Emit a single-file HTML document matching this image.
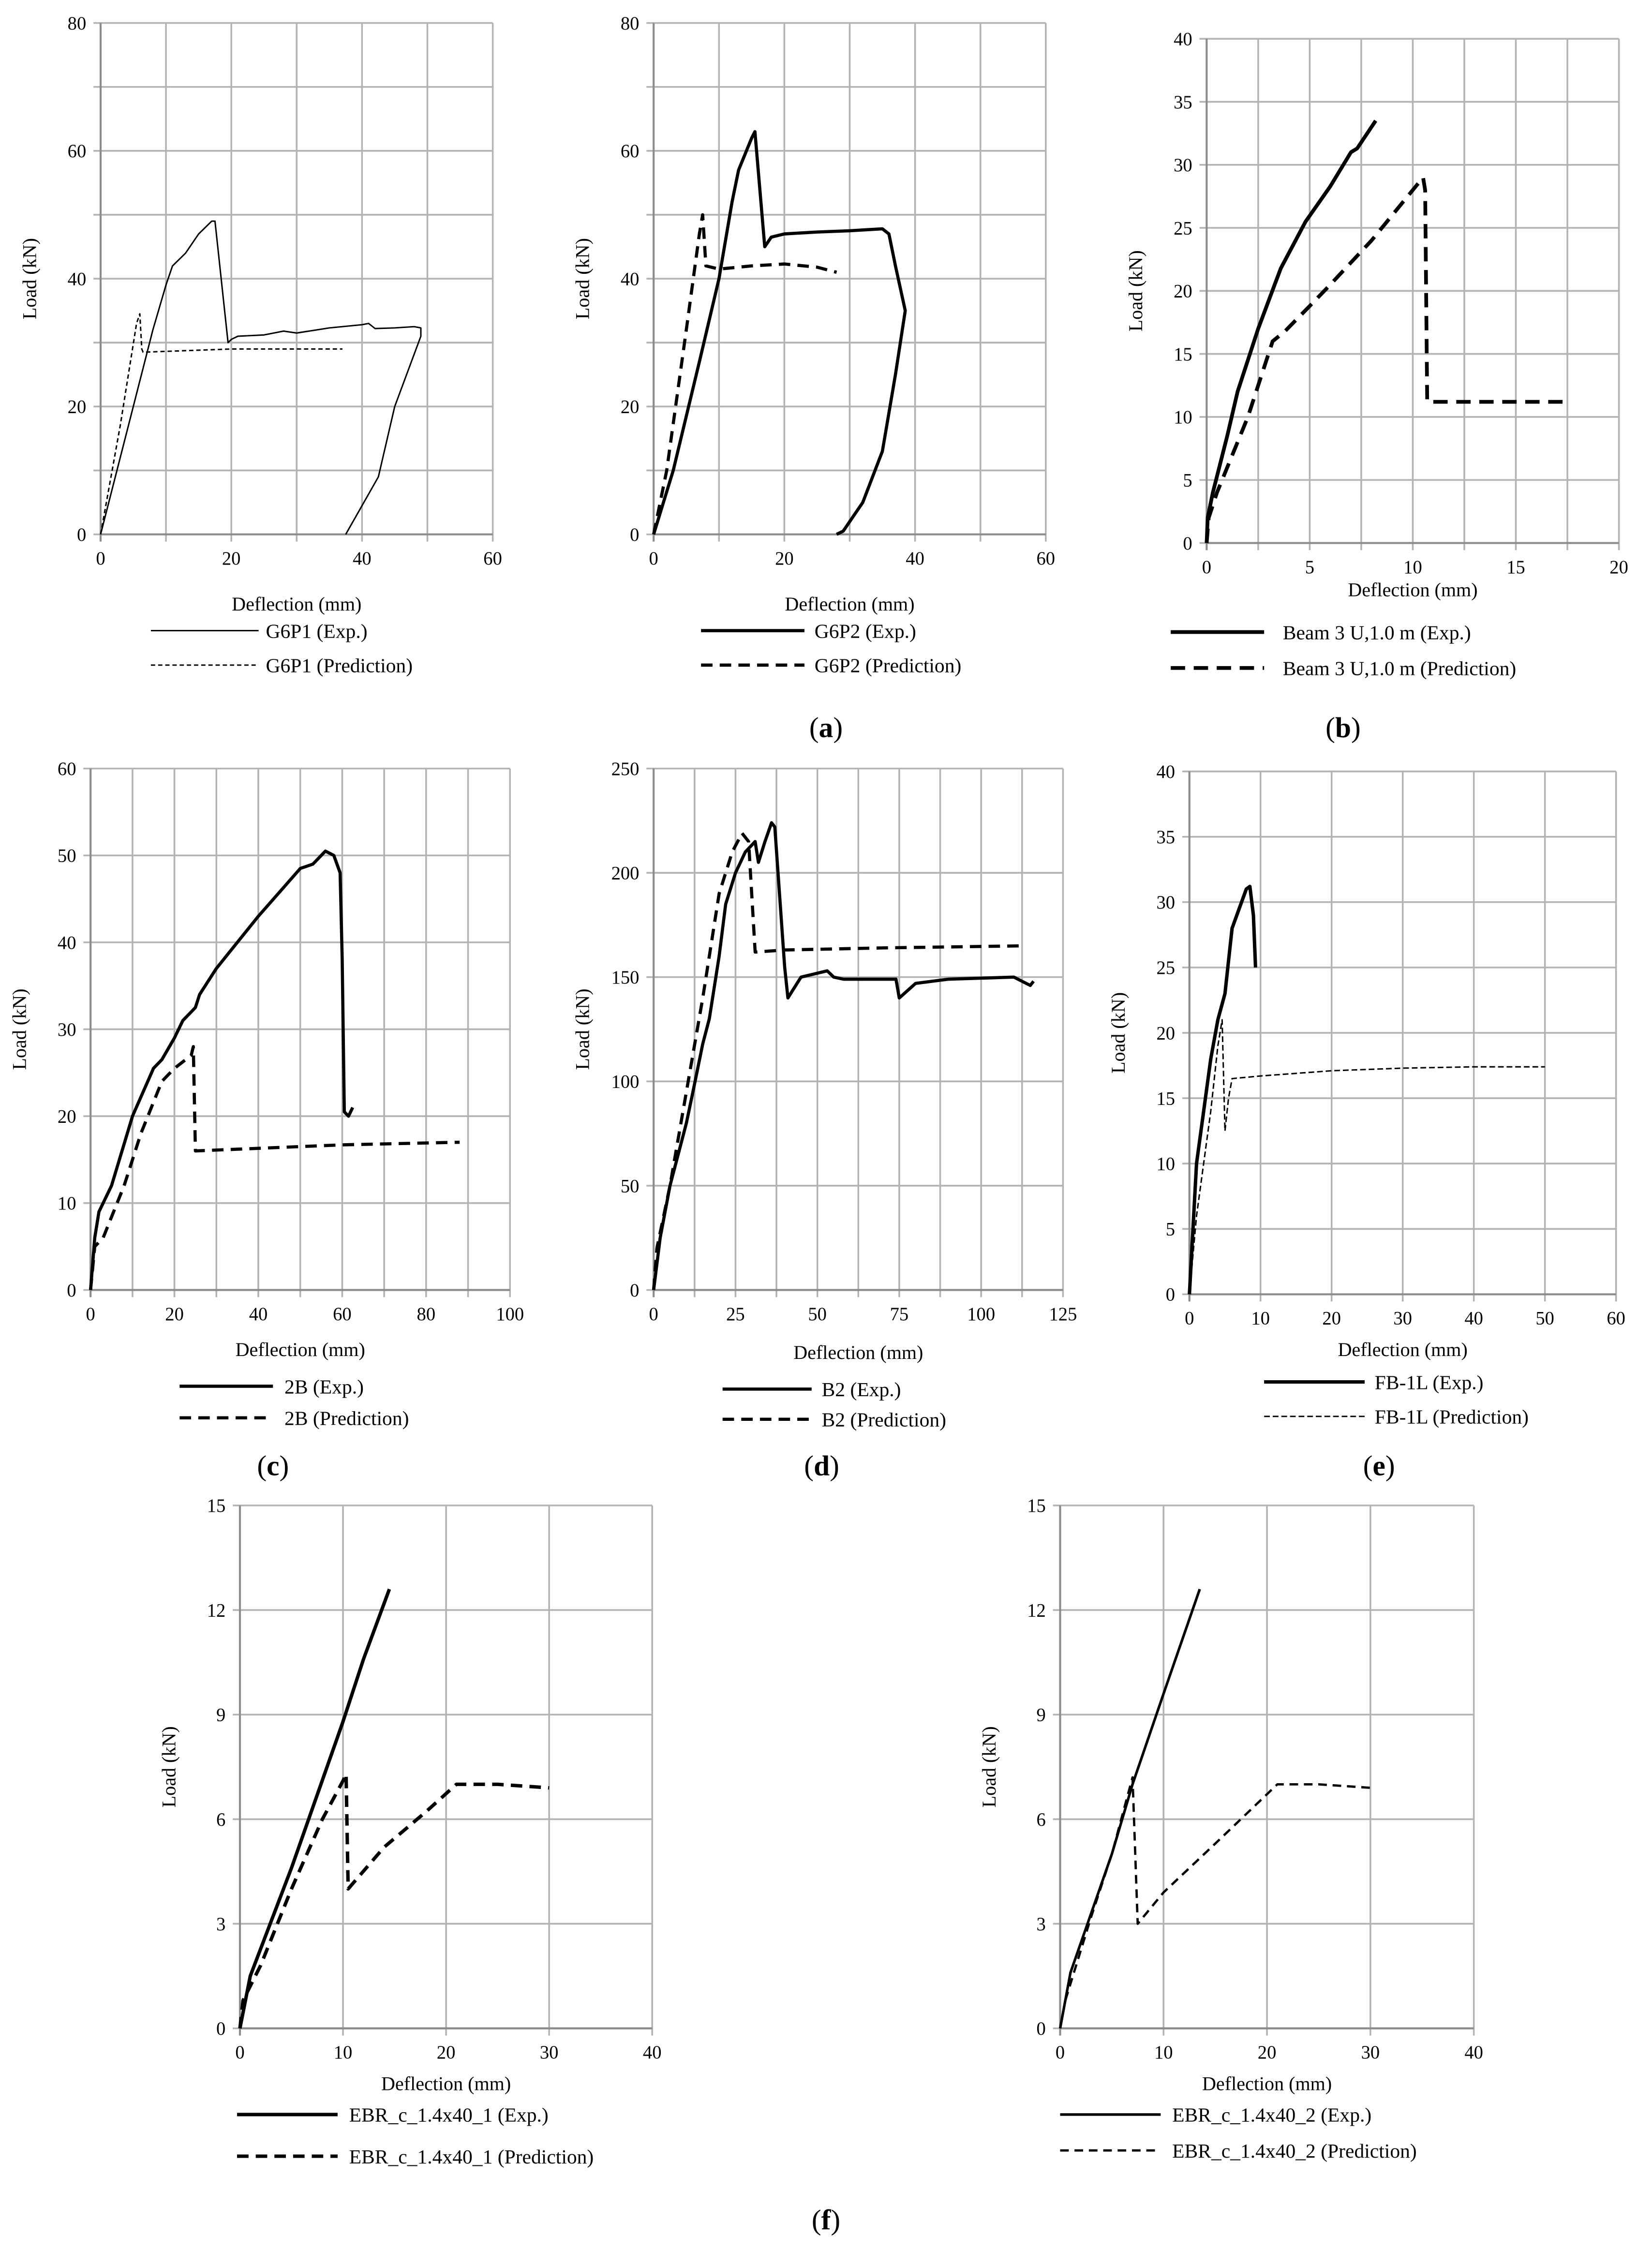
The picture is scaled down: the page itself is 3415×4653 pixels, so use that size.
<!DOCTYPE html>
<html><head><meta charset="utf-8">
<style>
html,body{margin:0;padding:0;background:#fff;}
svg{display:block;}
text{font-family:"Liberation Serif",serif;fill:#000;}
</style></head>
<body>
<svg id="fig" width="3415" height="4653" viewBox="0 0 1150 1567" xmlns="http://www.w3.org/2000/svg"></svg>
<script>
// ---- data (deflection mm, load kN) ----
const a1ExpX=[0,2,5,8,10,11,13,15,17,17.5,19.5,20,21,25,28,30,35,40,41,42,45,48,49,49,45,42.5,37.5];
const a1ExpY=[0,8,20,32,39,42,44,47,49,49,30,30.5,31,31.2,31.8,31.5,32.3,32.8,33,32.2,32.3,32.5,32.3,31,20,9,0];
const a1PreX=[0,3,5.5,6,6.3,6.5,20,37];
const a1PreY=[0,17,33,34.5,29,28.5,29,29];
const a2ExpX=[0,3,7,10,12,13,15,15.5,17,18,20,25,30,35,36,37,38.5,37,35,32,29,28];
const a2ExpY=[0,10,27,40,52,57,62,63,45,46.5,47,47.3,47.5,47.8,47,42,35,25,13,5,0.5,0];
const a2PreX=[0,2,5,7,7.5,8,10,15,20,25,28];
const a2PreY=[0,10,32,47,50,42,41.5,42,42.3,41.8,41];
const bExpX=[0,0.05,0.3,1,1.5,2.5,3.3,3.6,4.8,6,7,7.3,8.2];
const bExpY=[0,2,4,8.5,12,17,20.5,21.8,25.5,28.3,31,31.3,33.5];
const bPreX=[0,0.1,0.5,1,2,2.6,3.2,3.8,5,6,8,10,10.5,10.6,10.7,12,17.5];
const bPreY=[0,2,4,6,10,13,16,16.8,18.8,20.5,24,28,29,28,11.2,11.2,11.2];
const cExpX=[0,1,2,5,10,15,17,20,22,25,26,30,40,50,53,56,58,59.5,60,60.5,61.5,62.5];
const cExpY=[0,6,9,12,20,25.5,26.5,29,31,32.5,34,37,43,48.5,49,50.5,50,48,38,20.5,20,21];
const cPreX=[0,1,3,8,12,17,20,24,24.5,25,30,60,88];
const cPreY=[0,5,6,12,18,24,25.5,27,28,16,16.1,16.7,17];
const dExpX=[0,2,5,10,12,15,17,20,22,25,28,31,32,34,36,37,40,41,45,53,55,58,65,74,75,80,90,110,115,116];
const dExpY=[0,25,50,80,95,118,130,160,185,200,210,215,205,215,224,222,155,140,150,153,150,149,149,149,140,147,149,150,146,148];
const dPreX=[0,1,5,10,15,20,24,27,29,31,40,70,113];
const dPreY=[0,20,50,95,140,190,210,219,215,162,163,164,165];
const eExpX=[0,1,2,3,4,5,6,7,8,8.5,9,9.3];
const eExpY=[0,10,14,18,21,23,28,29.5,31,31.2,29,25];
const ePreX=[0,1,2,3,4,4.6,5,5.5,6,10,20,30,40,50];
const ePreY=[0,6,10,14,19,21,12.5,15,16.5,16.7,17.1,17.3,17.4,17.4];
const f1ExpX=[0,1,5,10,12,14.5];
const f1ExpY=[0,1.5,4.6,8.8,10.6,12.6];
const f1PreX=[0,0.3,2,5,8,10,10.3,10.5,14,18,21,25,30];
const f1PreY=[0,0.8,1.8,4,6,7.1,7.3,4,5.2,6.2,7,7,6.9];
const f2ExpX=[0,1,5,7,10,13.5];
const f2ExpY=[0,1.6,5,7,9.6,12.6];
const f2PreX=[0,0.5,3,5,7,7.5,10,15,21,25,30];
const f2PreY=[0,0.8,3.2,5,7.2,3,3.9,5.3,7,7,6.9];

const panels=[
 {id:'g6p1',x0:70,x1:343,y0:372,y1:16,xmax:60,ymax:80,xgrid:10,ygrid:10,xlab:20,ylab:20,xty:425,
  series:[[a1ExpX,a1ExpY,1,null],[a1PreX,a1PreY,1,'3,2']],leg:{x1:105,x2:180,tx:185,y:[439,463]},names:['G6P1 (Exp.)','G6P1 (Prediction)']},
 {id:'g6p2',x0:455,x1:728,y0:372,y1:16,xmax:60,ymax:80,xgrid:10,ygrid:10,xlab:20,ylab:20,xty:425,
  series:[[a2ExpX,a2ExpY,2.2,null],[a2PreX,a2PreY,2.2,'8,5']],leg:{x1:488,x2:560,tx:567,y:[439,463]},names:['G6P2 (Exp.)','G6P2 (Prediction)']},
 {id:'beam3',x0:840,x1:1127,y0:378,y1:27,xmax:20,ymax:40,xgrid:2.5,ygrid:5,xlab:5,ylab:5,xty:415,
  series:[[bExpX,bExpY,2.6,null],[bPreX,bPreY,2.6,'10,6']],leg:{x1:815,x2:880,tx:893,y:[440,465]},names:['Beam 3 U,1.0 m (Exp.)','Beam 3 U,1.0 m (Prediction)']},
 {id:'2b',x0:63,x1:355,y0:898,y1:535,xmax:100,ymax:60,xgrid:10,ygrid:10,xlab:20,ylab:10,xty:944,
  series:[[cExpX,cExpY,2.2,null],[cPreX,cPreY,2.2,'8,5']],leg:{x1:125,x2:190,tx:198,y:[965,987]},names:['2B (Exp.)','2B (Prediction)']},
 {id:'b2',x0:455,x1:740,y0:898,y1:535,xmax:125,ymax:250,xgrid:12.5,ygrid:50,xlab:25,ylab:50,xty:946,
  series:[[dExpX,dExpY,2.2,null],[dPreX,dPreY,2.2,'8,5']],leg:{x1:503,x2:565,tx:572,y:[967,988]},names:['B2 (Exp.)','B2 (Prediction)']},
 {id:'fb1l',x0:828,x1:1125,y0:901,y1:537,xmax:60,ymax:40,xgrid:10,ygrid:5,xlab:10,ylab:5,xty:944,
  series:[[eExpX,eExpY,2.4,null],[ePreX,ePreY,1,'4,2']],leg:{x1:880,x2:950,tx:957,y:[962,986]},names:['FB-1L (Exp.)','FB-1L (Prediction)']},
 {id:'ebr1',x0:167,x1:454,y0:1412,y1:1048,xmax:40,ymax:15,xgrid:10,ygrid:3,xlab:10,ylab:3,xty:1455,
  series:[[f1ExpX,f1ExpY,2.4,null],[f1PreX,f1PreY,2.4,'8,5']],leg:{x1:165,x2:235,tx:243,y:[1472,1501]},names:['EBR_c_1.4x40_1 (Exp.)','EBR_c_1.4x40_1 (Prediction)']},
 {id:'ebr2',x0:738,x1:1026,y0:1412,y1:1048,xmax:40,ymax:15,xgrid:10,ygrid:3,xlab:10,ylab:3,xty:1455,
  series:[[f2ExpX,f2ExpY,1.8,null],[f2PreX,f2PreY,1.6,'6,4']],leg:{x1:738,x2:808,tx:816,y:[1472,1497]},names:['EBR_c_1.4x40_2 (Exp.)','EBR_c_1.4x40_2 (Prediction)']}
];
const NS='http://www.w3.org/2000/svg';
const svg=document.getElementById('fig');
function mk(tag,attrs,parent){const e=document.createElementNS(NS,tag);for(const k in attrs)e.setAttribute(k,attrs[k]);(parent||svg).appendChild(e);return e;}
panels.forEach(p=>{
 const g=mk('g',{});
 
 
 const sx=v=>p.x0+(p.x1-p.x0)*v/p.xmax;
 const sy=v=>p.y0+(p.y1-p.y0)*v/p.ymax;
 const nx=Math.round(p.xmax/p.xgrid), ny=Math.round(p.ymax/p.ygrid);
 for(let i=0;i<=nx;i++){const v=i*p.xgrid;const l=mk('line',{x1:sx(v),x2:sx(v),y1:p.y0+5,y2:p.y1,stroke:'#b3b3b3','stroke-width':1.2},g);
  
  }
 for(let i=0;i<=ny;i++){const v=i*p.ygrid;const l=mk('line',{x1:p.x0-5,x2:p.x1,y1:sy(v),y2:sy(v),stroke:'#b3b3b3','stroke-width':1.2},g);
  
  }
 const ax=mk('line',{x1:p.x0,x2:p.x0,y1:p.y0+5,y2:p.y1,stroke:'#8c8c8c','stroke-width':1.4},g);
 
 
 const ax2=mk('line',{x1:p.x0,x2:p.x1,y1:p.y0,y2:p.y0,stroke:'#8c8c8c','stroke-width':1.4},g);
 
 
 for(let v=0;v<=p.xmax+1e-9;v+=p.xlab){const t=mk('text',{x:sx(v),y:p.y0+21,'font-size':13,'text-anchor':'middle'},g);t.textContent=String(+v.toFixed(2));
  
  }
 for(let v=0;v<=p.ymax+1e-9;v+=p.ylab){const t=mk('text',{x:p.x0-10,y:sy(v)+4.5,'font-size':13,'text-anchor':'end'},g);t.textContent=String(+v.toFixed(2));
  
  }
 const xt=mk('text',{x:(p.x0+p.x1)/2,y:p.xty,'font-size':13.5,'text-anchor':'middle'},g);xt.textContent='Deflection (mm)';
 
 
 const yc=(p.y0+p.y1)/2, yx=p.x0-45;
 const yt=mk('text',{x:yx,y:yc,'font-size':13.5,'text-anchor':'middle',transform:`rotate(-90 ${yx} ${yc})`},g);yt.textContent='Load (kN)';
 
 
 p.series.forEach((s,k)=>{
  const [X,Y,w,dash]=s;
  const pts=X.map((x,i)=>sx(x).toFixed(2)+','+sy(Y[i]).toFixed(2)).join(' ');
  const a={points:pts,fill:'none',stroke:'#000','stroke-width':w,'stroke-linejoin':'round'};
  if(dash)a['stroke-dasharray']=dash;
  const pl=mk('polyline',a,g);
  
  
  const la={x1:p.leg.x1,x2:p.leg.x2,y1:p.leg.y[k],y2:p.leg.y[k],stroke:'#000','stroke-width':w};
  if(dash)la['stroke-dasharray']=dash;
  const ll=mk('line',la,g);
  
  
  const lt=mk('text',{x:p.leg.tx,y:p.leg.y[k]+5,'font-size':14},g);lt.textContent=p.names[k];
  
  
 });
});
[['(a)',575,513],['(b)',935,513],['(c)',190,1027],['(d)',572,1027],['(e)',960,1027],['(f)',575,1552]].forEach(l=>{
 const t=mk('text',{x:l[1],y:l[2],'font-size':20,'text-anchor':'middle'});
 t.innerHTML='(<tspan font-weight="bold">'+l[0][1]+'</tspan>)';
 
 
});
</script>
</body></html>
